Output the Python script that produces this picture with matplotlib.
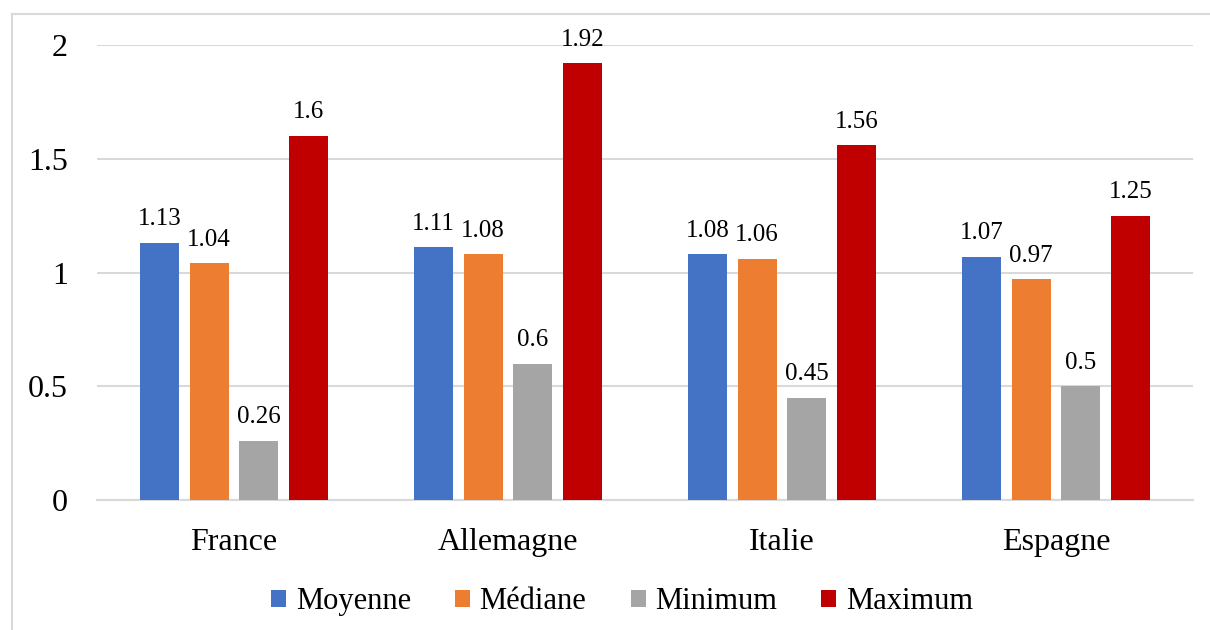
import numpy as np
import matplotlib.pyplot as plt
from matplotlib.patches import Patch
from matplotlib.lines import Line2D

countries = ['France', 'Allemagne', 'Italie', 'Espagne']
series = ['Moyenne', 'Médiane', 'Minimum', 'Maximum']
moyenne = [1.13, 1.11, 1.08, 1.07]
mediane = [1.04, 1.08, 1.06, 0.97]
minimum = [0.26, 0.6, 0.45, 0.5]
maximum = [1.6, 1.92, 1.56, 1.25]
colors = ['#4472C4', '#ED7D31', '#A5A5A5', '#C00000']

plt.rcParams['font.family'] = ['Liberation Serif', 'DejaVu Serif']

fig = plt.figure(figsize=(12.1, 6.3), dpi=100)
ax = fig.add_axes([97 / 1210, 130 / 630, 1096 / 1210, 455 / 630])

x = np.arange(len(countries))
width = 0.142
step = 0.181
values = [moyenne, mediane, minimum, maximum]

for i, (name, vals, col) in enumerate(zip(series, values, colors)):
    pos = x + (i - 1.5) * step
    ax.bar(pos, vals, width=width, color=col, zorder=3)
    for px, v in zip(pos, vals):
        ax.annotate('{:g}'.format(v), (px, v), xytext=(0, 9),
                    textcoords='offset points', ha='center', va='bottom',
                    fontsize=18)

ax.set_xlim(-0.5, len(countries) - 0.5)
ax.set_ylim(0, 2)
ax.set_yticks([0, 0.5, 1, 1.5, 2])
ax.set_yticklabels(['0', '0.5', '1', '1.5', '2'])
ax.set_xticks(x)
ax.set_xticklabels(countries)
ax.tick_params(axis='y', length=0, pad=21, labelsize=23)
ax.tick_params(axis='x', length=0, pad=20, labelsize=23)
ax.grid(axis='y', color='#d9d9d9', linewidth=1.5, zorder=0)
for s in ['top', 'right', 'left']:
    ax.spines[s].set_visible(False)
ax.spines['bottom'].set_color('#d9d9d9')
ax.spines['bottom'].set_linewidth(1.5)

handles = [Patch(facecolor=c, edgecolor='none') for c in colors]
leg = fig.legend(handles, series, loc='center', bbox_to_anchor=(0.514, 0.045),
                 ncol=4, frameon=False,
                 prop={'family': 'Liberation Serif', 'size': 22},
                 handlelength=0.5, handleheight=0.5, handletextpad=0.3,
                 columnspacing=1.45)
for t in leg.get_texts():
    t.set_fontfamily('Liberation Serif')

# outer chart border (left and top edges only visible)
bx = 12 / 1210
by = 1 - 14 / 630
fig.add_artist(Line2D([bx, bx], [0, by], transform=fig.transFigure,
                      color='#d9d9d9', linewidth=1.5))
fig.add_artist(Line2D([bx, 1], [by, by], transform=fig.transFigure,
                      color='#d9d9d9', linewidth=1.5))

fig.savefig('out.png', dpi=100)
